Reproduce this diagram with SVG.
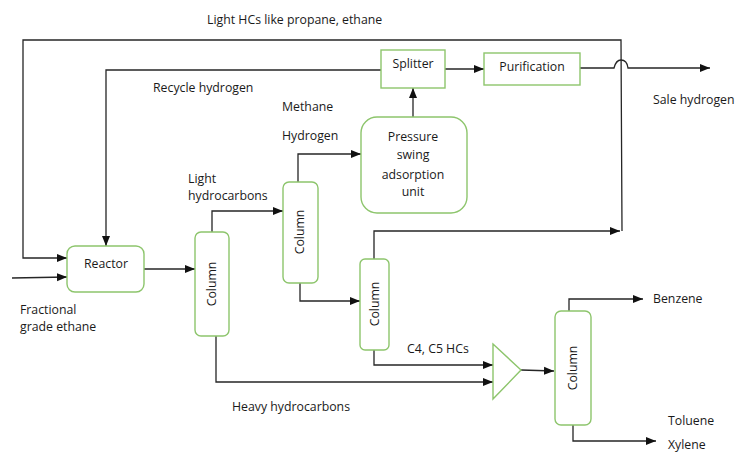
<svg xmlns="http://www.w3.org/2000/svg" width="736" height="454" viewBox="0 0 736 454">
<style>
  .node { fill: #ffffff; stroke: #8dc56c; stroke-width: 1.4; }
  .ln { fill: none; stroke: #262626; stroke-width: 1.3; }
  text { font-family: "Open Sans", "Liberation Sans", sans-serif; font-size: 12.3px; fill: #1a1a1a; }
  .c { text-anchor: middle; }
</style>
<defs>
  <marker id="ah" markerUnits="userSpaceOnUse" markerWidth="10" markerHeight="10" viewBox="0 0 10 10" refX="10" refY="5" orient="auto">
    <path d="M0,1 L10,5 L0,9 Z" fill="#111111"/>
  </marker>
</defs>
<rect width="736" height="454" fill="#ffffff"/>

<g id="connectors">
  <path class="ln" d="M374,259 V231 H620" marker-end="url(#ah)"/>
  <path class="ln" d="M622,231 L621,40 H23 V258 H67" marker-end="url(#ah)"/>
  <path class="ln" d="M381,70 H106 V246" marker-end="url(#ah)"/>
  <path class="ln" d="M445,69 H484" marker-end="url(#ah)"/>
  <path class="ln" d="M580,68 H614 Q616,60 621,60 Q627,60 628,68 H710" marker-end="url(#ah)"/>
  <path class="ln" d="M413,117 V88" marker-end="url(#ah)"/>
  <path class="ln" d="M12,278 L67,277" marker-end="url(#ah)"/>
  <path class="ln" d="M144,269 H195" marker-end="url(#ah)"/>
  <path class="ln" d="M212,232 V211 H283" marker-end="url(#ah)"/>
  <path class="ln" d="M298,182 V154 H361" marker-end="url(#ah)"/>
  <path class="ln" d="M300,283 V301 H360" marker-end="url(#ah)"/>
  <path class="ln" d="M216,336 V382 H493" marker-end="url(#ah)"/>
  <path class="ln" d="M374,350 V365 H493" marker-end="url(#ah)"/>
  <path class="ln" d="M521,370 L554,371" marker-end="url(#ah)"/>
  <path class="ln" d="M569,311 V299 H643" marker-end="url(#ah)"/>
  <path class="ln" d="M573,425 V441 H656" marker-end="url(#ah)"/>
</g>

<g id="reactor">
  <rect class="node" x="67" y="246" width="77" height="46" rx="8"/>
  <text class="c" x="106" y="268">Reactor</text>
</g>
<g id="column1">
  <rect class="node" x="195" y="232" width="34" height="104" rx="6"/>
  <text class="c" transform="translate(216,284) rotate(-90)">Column</text>
</g>
<g id="column2">
  <rect class="node" x="283" y="182" width="35" height="101" rx="6"/>
  <text class="c" transform="translate(304,232) rotate(-90)">Column</text>
</g>
<g id="column3">
  <rect class="node" x="360" y="259" width="29" height="91" rx="5"/>
  <text class="c" transform="translate(379,304) rotate(-90)">Column</text>
</g>
<g id="column4">
  <rect class="node" x="555" y="311" width="36" height="114" rx="6"/>
  <text class="c" transform="translate(577,368) rotate(-90)">Column</text>
</g>
<g id="mixer">
  <path class="node" d="M493,344 L521,370 L493,399 Z"/>
</g>
<g id="psa">
  <rect class="node" x="361" y="117" width="106" height="96" rx="16"/>
  <text class="c" x="413" y="141">Pressure</text>
  <text class="c" x="413" y="159">swing</text>
  <text class="c" x="413" y="179">adsorption</text>
  <text class="c" x="413" y="196">unit</text>
</g>
<g id="splitter">
  <rect class="node" x="381" y="50" width="64" height="38"/>
  <text class="c" x="413" y="68">Splitter</text>
</g>
<g id="purification">
  <rect class="node" x="484" y="53" width="96" height="32"/>
  <text class="c" x="532" y="71">Purification</text>
</g>

<g id="labels">
  <text x="207" y="24">Light HCs like propane, ethane</text>
  <text x="153" y="92">Recycle hydrogen</text>
  <text x="282" y="111">Methane</text>
  <text x="282" y="140">Hydrogen</text>
  <text x="188" y="183">Light</text>
  <text x="188" y="200">hydrocarbons</text>
  <text x="653" y="104">Sale hydrogen</text>
  <text x="20" y="314">Fractional</text>
  <text x="20" y="331">grade ethane</text>
  <text x="407" y="353">C4, C5 HCs</text>
  <text x="232" y="411">Heavy hydrocarbons</text>
  <text x="653" y="303">Benzene</text>
  <text x="668" y="425">Toluene</text>
  <text x="668" y="449">Xylene</text>
</g>
</svg>
